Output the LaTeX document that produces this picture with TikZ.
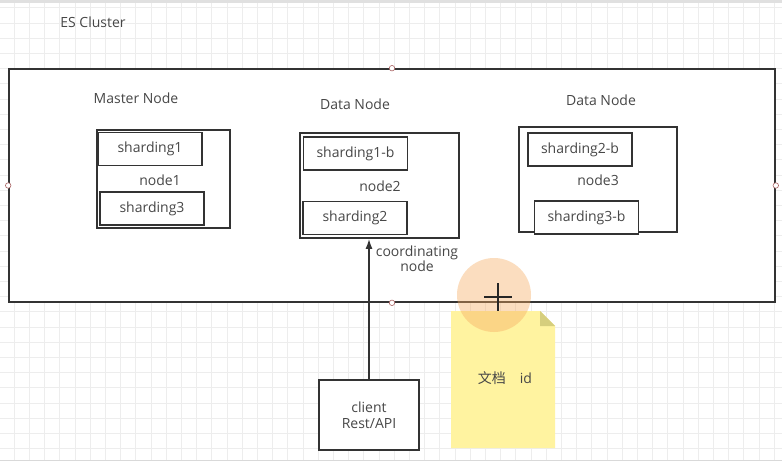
\documentclass[tikz,border=0pt]{standalone}
\usepackage{fontspec}
\usetikzlibrary{arrows.meta}
\setmainfont{Open Sans}
\newfontfamily\cjkfont{Noto Sans CJK SC}
\definecolor{notefill}{RGB}{255,243,160}
\definecolor{notefold}{RGB}{214,206,125}
\definecolor{peach}{RGB}{246,170,95}
\begin{document}
\begin{tikzpicture}[x=1pt,y=-1pt,
  every node/.style={font=\fontsize{14}{16}\selectfont, text=black!72},
  box/.style={draw=black!80, line width=1.6pt, fill=white, inner sep=0pt},
  shard/.style={box, minimum width=104pt, minimum height=33pt},
  lbl/.style={inner sep=0pt},
  handle/.style={circle, draw=red!45!black!60, fill=white, line width=0.6pt, minimum size=5.5pt, inner sep=0pt}
]
\useasboundingbox (0,0) rectangle (782,471);
\fill[white] (0,0) rectangle (782,471);
% grid
\foreach \i in {0,...,51} {\draw[black!7, line width=0.6pt] ({14+15.2*\i},3) -- ({14+15.2*\i},460);}
\foreach \j in {0,...,29} {\draw[black!7, line width=0.6pt] (0,{7.7+15.2*\j}) -- (782,{7.7+15.2*\j});}
\fill[black!12] (0,0) rectangle (782,3);
\draw[black!15, line width=0.8pt] (0,460.5) -- (782,460.5);
\fill[white] (0,461) rectangle (782,471);

% cluster
\node[box, minimum width=766pt, minimum height=233pt] (cluster) at (392,185.5) {};
\node[lbl] (title) at (93,22) {ES Cluster};

% node1
\node[lbl] (mlabel) at (136,98) {Master Node};
\node[box, minimum width=133pt, minimum height=98pt] (n1) at (163.5,179) {};
\node[shard] (s1) at (150,149) {sharding1};
\node[lbl] (n1l) at (160,180) {node1};
\node[shard] (s3) at (152,208.5) {sharding3};

% node2
\node[lbl] (d1label) at (355,104) {Data Node};
\node[box, minimum width=159pt, minimum height=105pt] (n2) at (379.5,185.5) {};
\node[shard] (s1b) at (355.5,153.5) {sharding1-b};
\node[lbl] (n2l) at (380,186) {node2};
\node[shard] (s2) at (355,218) {sharding2};

% node3
\node[lbl] (d2label) at (601,100) {Data Node};
\node[box, minimum width=158pt, minimum height=105pt] (n3) at (598,179.5) {};
\node[shard] (s2b) at (580,149.5) {sharding2-b};
\node[lbl] (n3l) at (598,180) {node3};
\node[shard] (s3b) at (586.5,217.5) {sharding3-b};

% handles
\node[handle] (ht) at (cluster.north) {};
\node[handle] (hb) at (cluster.south) {};
\node[handle] (hl) at (cluster.west) {};
\node[handle] (hr) at (cluster.east) {};

% client
\node[box, minimum width=100pt, minimum height=70pt, align=center, font=\fontsize{14}{16}\selectfont] (client) at (369,415) {client\\Rest/API};
\draw[black!80, line width=1.6pt, -{Latex[length=10pt,width=7pt]}] (client.north) -- (client.north |- n2.south);
\node[lbl, align=center, font=\fontsize{14}{15}\selectfont] (coord) at (417,259) {coordinating\\node};

% note
\fill[notefill] (451,311) -- (540,311) -- (555,326) -- (555,448) -- (451,448) -- cycle;
\fill[notefold] (540,311) -- (555,326) -- (540,326) -- cycle;
\node[lbl] (doc) at (505,378) {{\cjkfont 文档}\quad id};

% cursor highlight
\fill[peach, opacity=0.4] (494,295) circle (37);
\draw[black!85, line width=1.3pt] (484,297) -- (512,297) (498,283) -- (498,311);
\end{tikzpicture}
\end{document}
